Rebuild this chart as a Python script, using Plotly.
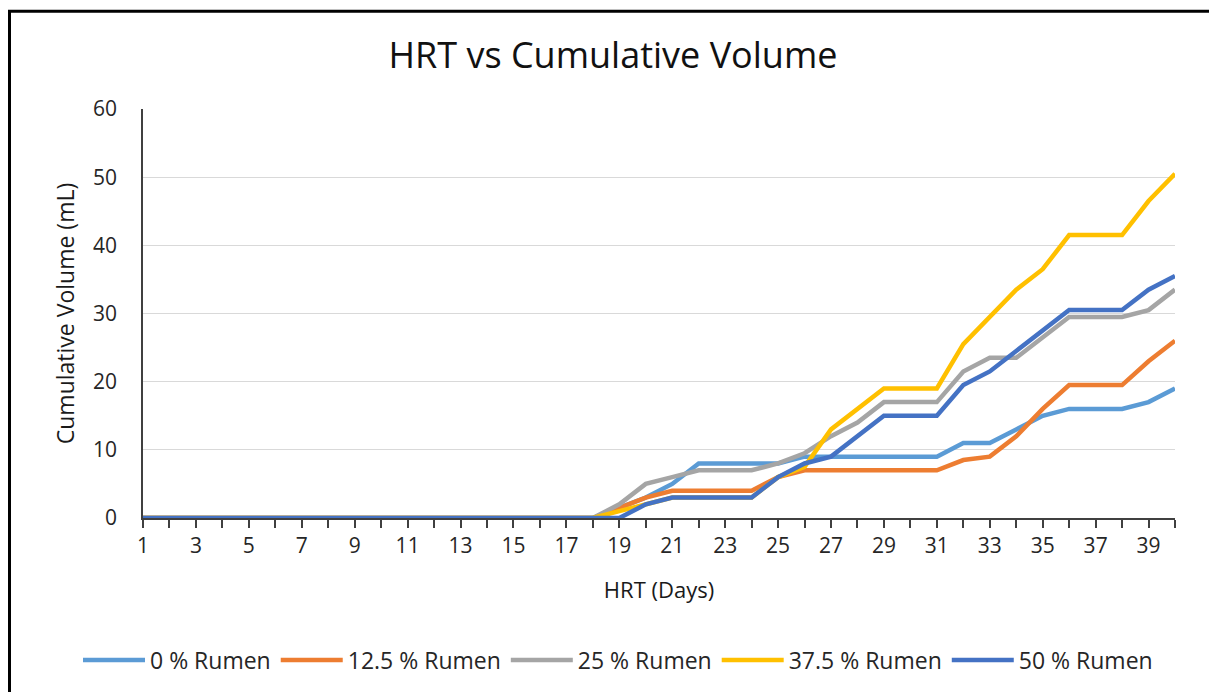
import plotly.graph_objects as go

days = list(range(1, 41))
zeros18 = [0] * 18
rumen_0 = zeros18 + [1.5, 3, 5, 8, 8, 8, 8, 9, 9, 9, 9, 9, 9, 11, 11, 13, 15, 16, 16, 16, 17, 19]
rumen_12_5 = zeros18 + [1.5, 3, 4, 4, 4, 4, 6, 7, 7, 7, 7, 7, 7, 8.5, 9, 12, 16, 19.5, 19.5, 19.5, 23, 26]
rumen_25 = zeros18 + [2, 5, 6, 7, 7, 7, 8, 9.5, 12, 14, 17, 17, 17, 21.5, 23.5, 23.5, 26.5, 29.5, 29.5, 29.5, 30.5, 33.5]
rumen_37_5 = zeros18 + [1, 2, 3, 3, 3, 3, 6, 7.5, 13, 16, 19, 19, 19, 25.5, 29.5, 33.5, 36.5, 41.5, 41.5, 41.5, 46.5, 50.5]
rumen_50 = zeros18 + [0, 2, 3, 3, 3, 3, 6, 8, 9, 12, 15, 15, 15, 19.5, 21.5, 24.5, 27.5, 30.5, 30.5, 30.5, 33.5, 35.5]

series_names = ["0 % Rumen", "12.5 % Rumen", "25 % Rumen", "37.5 % Rumen", "50 % Rumen"]
series_values = [rumen_0, rumen_12_5, rumen_25, rumen_37_5, rumen_50]
colors = ["#5B9BD5", "#ED7D31", "#A5A5A5", "#FFC000", "#4472C4"]

tick_vals = days
tick_text = [str(d) if d % 2 == 1 else "" for d in days]

FONT = "Open Sans"

# figure sits at (8, 8) in the page because of the default body margin
W, H = 1209, 684
L, R, T, B = 135, 42, 101, 173
PW, PH = W - L - R, H - T - B

fig = go.Figure()
for name, vals, c in zip(series_names, series_values, colors):
    fig.add_trace(go.Scatter(x=days, y=vals, name=name, mode="lines",
                             line=dict(color=c, width=4.5)))

fig.update_layout(
    width=W, height=H,
    margin=dict(l=L, r=R, t=T, b=B),
    paper_bgcolor="white", plot_bgcolor="white",
    font=dict(family=FONT, color="#404040"),
    title=dict(text="HRT vs Cumulative Volume", x=605 / W, xanchor="center",
               y=1 - 47 / H, yanchor="middle",
               font=dict(family=FONT, size=36, color="#111111")),
    showlegend=True,
    legend=dict(orientation="h", x=(70 - L) / PW, xanchor="left",
                y=(T + PH - 652) / PH, yanchor="middle",
                font=dict(family=FONT, size=23, color="#262626"),
                itemwidth=62, tracegroupgap=0, bgcolor="rgba(0,0,0,0)"),
)

fig.update_xaxes(
    range=[1, 40], tickmode="array", tickvals=tick_vals, ticktext=tick_text,
    ticks="outside", ticklen=8, tickwidth=1.5, tickcolor="#404040",
    showline=True, linecolor="#404040", linewidth=1.5,
    showgrid=False, zeroline=False,
    tickfont=dict(family=FONT, size=21, color="#262626"),
    title=dict(text="HRT (Days)", font=dict(family=FONT, size=22, color="#1a1a1a"), standoff=25),
)
fig.update_yaxes(
    range=[0, 60], dtick=10,
    showline=True, linecolor="#404040", linewidth=1.5,
    showgrid=True, gridcolor="#D9D9D9", gridwidth=1,
    zeroline=False, ticks="",
    ticklabelstandoff=20,
    tickfont=dict(family=FONT, size=21, color="#262626"),
    title=dict(text="Cumulative Volume (mL)", font=dict(family=FONT, size=23, color="#1a1a1a"), standoff=12),
)

# outer chart border (only left and top edges fall inside the picture)
fig.add_shape(type="rect", xref="paper", yref="paper",
              x0=(1.5 - L) / PW, x1=(W + 30 - L) / PW,
              y0=(T + PH - (H + 30)) / PH, y1=(T + PH - 3) / PH,
              line=dict(color="black", width=3), fillcolor="rgba(0,0,0,0)", layer="below")

fig.write_html("out.html")
